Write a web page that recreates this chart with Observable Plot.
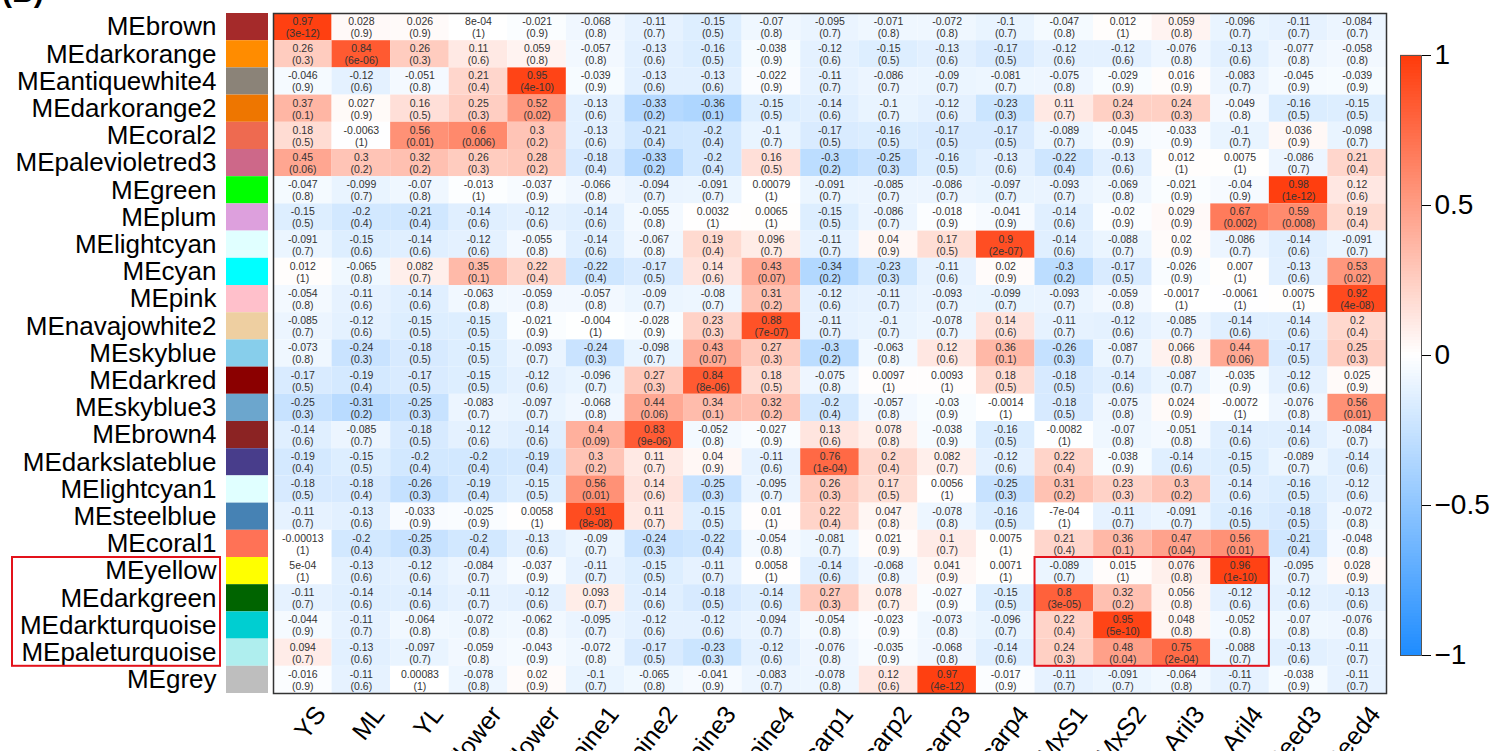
<!DOCTYPE html>
<html><head><meta charset="utf-8">
<script src="https://cdn.jsdelivr.net/npm/d3@7"></script>
<script src="https://cdn.jsdelivr.net/npm/@observablehq/plot@0.6"></script>
<style>
body{margin:0;background:#fff;font-family:"Liberation Sans",Arial,sans-serif;}
#wrap{position:relative;width:1495px;height:751px;overflow:hidden;background:#fff;}
#wrap > svg, #wrap > figure{position:absolute;top:0;margin:0;}
#tag{position:absolute;left:2px;top:-25px;font:bold 30px "Liberation Sans",Arial,sans-serif;color:#000;}
</style></head><body><div id="wrap"><div id="tag">(B)</div></div>
<script>
const modules = ["MEbrown","MEdarkorange","MEantiquewhite4","MEdarkorange2","MEcoral2","MEpalevioletred3","MEgreen","MEplum","MElightcyan","MEcyan","MEpink","MEnavajowhite2","MEskyblue","MEdarkred","MEskyblue3","MEbrown4","MEdarkslateblue","MElightcyan1","MEsteelblue","MEcoral1","MEyellow","MEdarkgreen","MEdarkturquoise","MEpaleturquoise","MEgrey"];
const moduleColors = ["#A52A2A","#FF8C00","#8B8378","#EE7600","#EE6A50","#CD6889","#00FF00","#DDA0DD","#E0FFFF","#00FFFF","#FFC0CB","#EECFA1","#87CEEB","#8B0000","#6CA6CD","#8B2323","#483D8B","#E0FFFF","#4682B4","#FF7256","#FFFF00","#006400","#00CED1","#AFEEEE","#BEBEBE"];
const samples = ["YS","ML","YL","Mflower","Fflower","Spine1","Spine2","Spine3","Spine4","Pericarp1","Pericarp2","Pericarp3","Pericarp4","MxS1","MxS2","Aril3","Aril4","Seed3","Seed4"];
const corr = [
 [0.97,0.028,0.026,8e-4,-0.021,-0.068,-0.11,-0.15,-0.07,-0.095,-0.071,-0.072,-0.1,-0.047,0.012,0.059,-0.096,-0.11,-0.084],
 [0.26,0.84,0.26,0.11,0.059,-0.057,-0.13,-0.16,-0.038,-0.12,-0.15,-0.13,-0.17,-0.12,-0.12,-0.076,-0.13,-0.077,-0.058],
 [-0.046,-0.12,-0.051,0.21,0.95,-0.039,-0.13,-0.13,-0.022,-0.11,-0.086,-0.09,-0.081,-0.075,-0.029,0.016,-0.083,-0.045,-0.039],
 [0.37,0.027,0.16,0.25,0.52,-0.13,-0.33,-0.36,-0.15,-0.14,-0.1,-0.12,-0.23,0.11,0.24,0.24,-0.049,-0.16,-0.15],
 [0.18,-0.0063,0.56,0.6,0.3,-0.13,-0.21,-0.2,-0.1,-0.17,-0.16,-0.17,-0.17,-0.089,-0.045,-0.033,-0.1,0.036,-0.098],
 [0.45,0.3,0.32,0.26,0.28,-0.18,-0.33,-0.2,0.16,-0.3,-0.25,-0.16,-0.13,-0.22,-0.13,0.012,0.0075,-0.086,0.21],
 [-0.047,-0.099,-0.07,-0.013,-0.037,-0.066,-0.094,-0.091,0.00079,-0.091,-0.085,-0.086,-0.097,-0.093,-0.069,-0.021,-0.04,0.98,0.12],
 [-0.15,-0.2,-0.21,-0.14,-0.12,-0.14,-0.055,0.0032,0.0065,-0.15,-0.086,-0.018,-0.041,-0.14,-0.02,0.029,0.67,0.59,0.19],
 [-0.091,-0.15,-0.14,-0.12,-0.055,-0.14,-0.067,0.19,0.096,-0.11,0.04,0.17,0.9,-0.14,-0.088,0.02,-0.086,-0.14,-0.091],
 [0.012,-0.065,0.082,0.35,0.22,-0.22,-0.17,0.14,0.43,-0.34,-0.23,-0.11,0.02,-0.3,-0.17,-0.026,0.007,-0.13,0.53],
 [-0.054,-0.11,-0.14,-0.063,-0.059,-0.057,-0.09,-0.08,0.31,-0.12,-0.11,-0.093,-0.099,-0.093,-0.059,-0.0017,-0.0061,0.0075,0.92],
 [-0.085,-0.12,-0.15,-0.15,-0.021,-0.004,-0.028,0.23,0.88,-0.11,-0.1,-0.078,0.14,-0.11,-0.12,-0.085,-0.14,-0.14,0.2],
 [-0.073,-0.24,-0.18,-0.15,-0.093,-0.24,-0.098,0.43,0.27,-0.3,-0.063,0.12,0.36,-0.26,-0.087,0.066,0.44,-0.17,0.25],
 [-0.17,-0.19,-0.17,-0.15,-0.12,-0.096,0.27,0.84,0.18,-0.075,0.0097,0.0093,0.18,-0.18,-0.14,-0.087,-0.035,-0.12,0.025],
 [-0.25,-0.31,-0.25,-0.083,-0.097,-0.068,0.44,0.34,0.32,-0.2,-0.057,-0.03,-0.0014,-0.18,-0.075,0.024,-0.0072,-0.076,0.56],
 [-0.14,-0.085,-0.18,-0.12,-0.14,0.4,0.83,-0.052,-0.027,0.13,0.078,-0.038,-0.16,-0.0082,-0.07,-0.051,-0.14,-0.14,-0.084],
 [-0.19,-0.15,-0.2,-0.2,-0.19,0.3,0.11,0.04,-0.11,0.76,0.2,0.082,-0.12,0.22,-0.038,-0.14,-0.15,-0.089,-0.14],
 [-0.18,-0.18,-0.26,-0.19,-0.15,0.56,0.14,-0.25,-0.095,0.26,0.17,0.0056,-0.25,0.31,0.23,0.3,-0.14,-0.16,-0.12],
 [-0.11,-0.13,-0.033,-0.025,0.0058,0.91,0.11,-0.15,0.01,0.22,0.047,-0.078,-0.16,-7e-4,-0.11,-0.091,-0.16,-0.18,-0.072],
 [-0.00013,-0.2,-0.25,-0.2,-0.13,-0.09,-0.24,-0.22,-0.054,-0.081,0.021,0.1,0.0075,0.21,0.36,0.47,0.56,-0.21,-0.048],
 [5e-4,-0.13,-0.12,-0.084,-0.037,-0.11,-0.15,-0.11,0.0058,-0.14,-0.068,0.041,0.0071,-0.089,0.015,0.076,0.96,-0.095,0.028],
 [-0.11,-0.14,-0.14,-0.11,-0.12,0.093,-0.14,-0.18,-0.14,0.27,0.078,-0.027,-0.15,0.8,0.32,0.056,-0.12,-0.12,-0.13],
 [-0.044,-0.11,-0.064,-0.072,-0.062,-0.095,-0.12,-0.12,-0.094,-0.054,-0.023,-0.073,-0.096,0.22,0.95,0.048,-0.052,-0.07,-0.076],
 [0.094,-0.13,-0.097,-0.059,-0.043,-0.072,-0.17,-0.23,-0.12,-0.076,-0.035,-0.068,-0.14,0.24,0.48,0.75,-0.088,-0.13,-0.11],
 [-0.016,-0.11,0.00083,-0.078,0.02,-0.1,-0.065,-0.041,-0.083,-0.078,0.12,0.97,-0.017,-0.11,-0.091,-0.064,-0.11,-0.038,-0.11]
];
const pval = [
 [3e-12,0.9,0.9,1,0.9,0.8,0.7,0.5,0.8,0.7,0.8,0.8,0.7,0.8,1,0.8,0.7,0.7,0.7],
 [0.3,6e-6,0.3,0.6,0.8,0.8,0.6,0.5,0.9,0.6,0.5,0.6,0.5,0.6,0.6,0.8,0.6,0.8,0.8],
 [0.9,0.6,0.8,0.4,4e-10,0.9,0.6,0.6,0.9,0.7,0.7,0.7,0.7,0.8,0.9,0.9,0.7,0.9,0.9],
 [0.1,0.9,0.5,0.3,0.02,0.6,0.2,0.1,0.5,0.6,0.7,0.6,0.3,0.7,0.3,0.3,0.8,0.5,0.5],
 [0.5,1,0.01,0.006,0.2,0.6,0.4,0.4,0.7,0.5,0.5,0.5,0.5,0.7,0.9,0.9,0.7,0.9,0.7],
 [0.06,0.2,0.2,0.3,0.2,0.4,0.2,0.4,0.5,0.2,0.3,0.5,0.6,0.4,0.6,1,1,0.7,0.4],
 [0.8,0.7,0.8,1,0.9,0.8,0.7,0.7,1,0.7,0.7,0.7,0.7,0.7,0.8,0.9,0.9,1e-12,0.6],
 [0.5,0.4,0.4,0.6,0.6,0.6,0.8,1,1,0.5,0.7,0.9,0.9,0.6,0.9,0.9,0.002,0.008,0.4],
 [0.7,0.6,0.6,0.6,0.8,0.6,0.8,0.4,0.7,0.7,0.9,0.5,2e-7,0.6,0.7,0.9,0.7,0.6,0.7],
 [1,0.8,0.7,0.1,0.4,0.4,0.5,0.6,0.07,0.2,0.3,0.6,0.9,0.2,0.5,0.9,1,0.6,0.02],
 [0.8,0.6,0.6,0.8,0.8,0.8,0.7,0.7,0.2,0.6,0.7,0.7,0.7,0.7,0.8,1,1,1,4e-8],
 [0.7,0.6,0.5,0.5,0.9,1,0.9,0.3,7e-7,0.7,0.7,0.7,0.6,0.7,0.6,0.7,0.6,0.6,0.4],
 [0.8,0.3,0.5,0.5,0.7,0.3,0.7,0.07,0.3,0.2,0.8,0.6,0.1,0.3,0.7,0.8,0.06,0.5,0.3],
 [0.5,0.4,0.5,0.5,0.6,0.7,0.3,8e-6,0.5,0.8,1,1,0.5,0.5,0.6,0.7,0.9,0.6,0.9],
 [0.3,0.2,0.3,0.7,0.7,0.8,0.06,0.1,0.2,0.4,0.8,0.9,1,0.5,0.8,0.9,1,0.8,0.01],
 [0.6,0.7,0.5,0.6,0.6,0.09,9e-6,0.8,0.9,0.6,0.8,0.9,0.5,1,0.8,0.8,0.6,0.6,0.7],
 [0.4,0.5,0.4,0.4,0.4,0.2,0.7,0.9,0.6,1e-4,0.4,0.7,0.6,0.4,0.9,0.6,0.5,0.7,0.6],
 [0.5,0.4,0.3,0.4,0.5,0.01,0.6,0.3,0.7,0.3,0.5,1,0.3,0.2,0.3,0.2,0.6,0.5,0.6],
 [0.7,0.6,0.9,0.9,1,8e-8,0.7,0.5,1,0.4,0.8,0.8,0.5,1,0.7,0.7,0.5,0.5,0.8],
 [1,0.4,0.3,0.4,0.6,0.7,0.3,0.4,0.8,0.7,0.9,0.7,1,0.4,0.1,0.04,0.01,0.4,0.8],
 [1,0.6,0.6,0.7,0.9,0.7,0.5,0.7,1,0.6,0.8,0.9,1,0.7,1,0.8,1e-10,0.7,0.9],
 [0.7,0.6,0.6,0.7,0.6,0.7,0.6,0.5,0.6,0.3,0.7,0.9,0.5,3e-5,0.2,0.8,0.6,0.6,0.6],
 [0.9,0.7,0.8,0.8,0.8,0.7,0.6,0.6,0.7,0.8,0.9,0.8,0.7,0.4,5e-10,0.8,0.8,0.8,0.8],
 [0.7,0.6,0.7,0.8,0.9,0.8,0.5,0.3,0.6,0.8,0.9,0.8,0.6,0.3,0.04,2e-4,0.7,0.6,0.7],
 [0.9,0.6,1,0.8,0.9,0.7,0.8,0.9,0.7,0.8,0.6,4e-12,0.9,0.7,0.7,0.8,0.7,0.9,0.7]
];
const highlightRows = ["MEyellow","MEpaleturquoise"];
const highlightCols = ["MxS1","Aril4"];
const colorTicks = [-1,-0.5,0,0.5,1];

// R-style signif formatting: scientific only when it is shorter
function fmt(v){
  if (v === 0) return "0";
  const [m, e] = v.toExponential().split("e");
  const en = +e;
  const sci = m + "e" + (en < 0 ? "-" : "+") + String(Math.abs(en)).padStart(2, "0");
  let fixed;
  if (en < 0) {
    const digits = m.replace("-", "").replace(".", "").length;
    fixed = v.toFixed(Math.min(20, digits - 1 - en));
  } else fixed = String(v);
  return sci.length < fixed.length ? sci : fixed;
}
const tickFmt = d => d < 0 ? "\u2212" + Math.abs(d) : String(d);

const cells = [];
modules.forEach((m, ri) => samples.forEach((s, ci) => cells.push({ri, ci, r: corr[ri][ci], p: pval[ri][ci]})));

const W = 1495, H = 751, mL = 273, mR = 109, mT = 13, mB = 58;
const FONT = "Liberation Sans, Arial, sans-serif";
const colorOpt = {type: "linear", domain: [-1, 0, 1], range: ["#1E8CFF", "#FFFFFF", "#FF3A0A"], interpolate: "rgb"};

const box = {
  x1: samples.indexOf(highlightCols[0]), x2: samples.indexOf(highlightCols[1]) + 1,
  y1: modules.indexOf(highlightRows[0]), y2: modules.indexOf(highlightRows[1]) + 1
};

const main = Plot.plot({
  width: W, height: H, marginLeft: mL, marginRight: mR, marginTop: mT, marginBottom: mB,
  style: {fontFamily: FONT, background: "transparent", overflow: "visible"},
  x: {domain: [0, samples.length], axis: null},
  y: {domain: [0, modules.length], reverse: true, axis: null},
  color: colorOpt,
  marks: [
    Plot.rect(cells, {x1: "ci", x2: d => d.ci + 1, y1: "ri", y2: d => d.ri + 1, fill: "r"}),
    Plot.text(cells, {x: d => d.ci + 0.5, y: d => d.ri + 0.5, text: d => fmt(d.r) + "\n(" + fmt(d.p) + ")", fontSize: 10.5, fill: "#333", lineHeight: 1.15}),
    Plot.frame({stroke: "#333", strokeWidth: 1.5}),
    Plot.rect([box], {x1: "x1", x2: "x2", y1: "y1", y2: "y2", fill: "none", stroke: "#E3121B", strokeWidth: 2}),
    Plot.axisX(samples.map((s, i) => i + 0.5), {tickFormat: d => samples[Math.floor(d)], tickRotate: -52, tickSize: 0, tickPadding: 16, dx: 18, fontSize: 25, fill: "#000"})
  ]
});

const side = Plot.plot({
  width: 273, height: H, marginLeft: 226, marginRight: 5, marginTop: mT, marginBottom: mB,
  style: {fontFamily: FONT, background: "transparent", overflow: "visible"},
  x: {domain: [0, 1], axis: null},
  y: {domain: [0, modules.length], reverse: true, axis: null},
  color: {type: "identity"},
  marks: [
    Plot.rect(modules, {x1: 0, x2: 1, y1: (d, i) => i, y2: (d, i) => i + 1, fill: (d, i) => moduleColors[i]}),
    Plot.axisY(modules.map((m, i) => i + 0.5), {anchor: "left", tickFormat: d => modules[Math.floor(d)], tickSize: 0, tickPadding: 10, fontSize: 26, fill: "#000"})
  ]
});

const cb = Plot.plot({
  width: 105, height: H, marginLeft: 10, marginRight: 74, marginTop: 55, marginBottom: 96,
  style: {fontFamily: FONT, background: "transparent", overflow: "visible"},
  x: {domain: [0, 1], axis: null},
  y: {domain: [-1, 1], axis: null},
  color: colorOpt,
  marks: [
    Plot.rect(d3.range(-1, 1, 0.01), {x1: 0, x2: 1, y1: d => d, y2: d => d + 0.0105, fill: d => d + 0.005}),
    Plot.frame({stroke: "#555", strokeWidth: 1}),
    Plot.axisY(colorTicks, {anchor: "right", tickSize: 9, tickPadding: 4, fontSize: 28, tickFormat: tickFmt, fill: "#000"})
  ]
});

const wrap = document.getElementById("wrap");
main.style.left = "0px";
side.style.left = "0px";
cb.style.left = "1390px";
wrap.appendChild(main);
wrap.appendChild(side);
wrap.appendChild(cb);

// red outline around highlighted module labels
const ys = side.scale("y");
d3.select(side).append("rect")
  .attr("x", 12).attr("width", 208)
  .attr("y", ys.apply(box.y1)).attr("height", ys.apply(box.y2) - ys.apply(box.y1))
  .attr("fill", "none").attr("stroke", "#E3121B").attr("stroke-width", 2);
</script></body></html>
